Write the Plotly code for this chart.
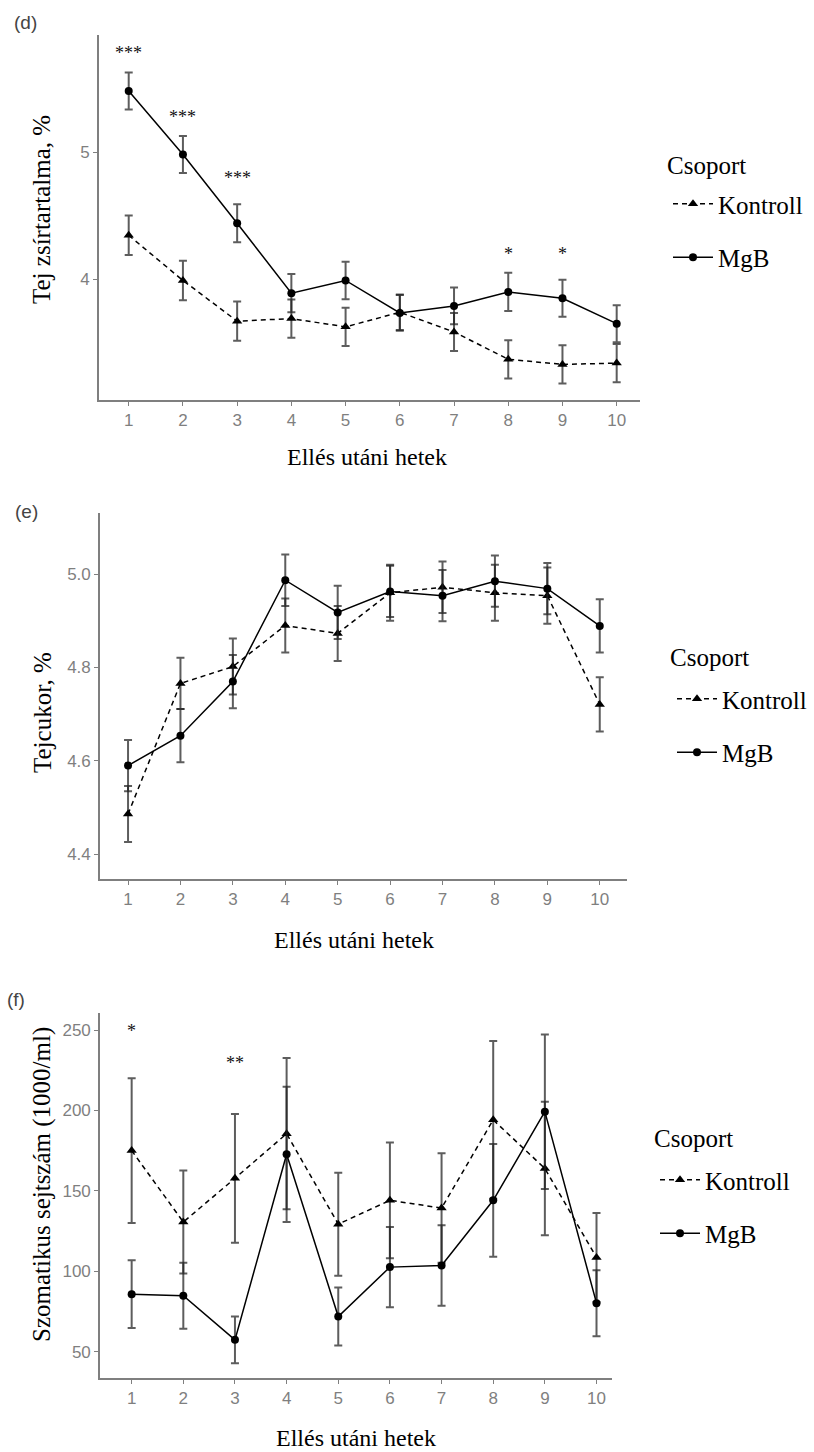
import plotly.graph_objects as go

W, H = 814, 1452

weeks = [1, 2, 3, 4, 5, 6, 7, 8, 9, 10]
groups = ["Kontroll", "MgB"]

# (d) Tej zsírtartalma, %
d_kontroll = [4.345, 3.99, 3.67, 3.69, 3.625, 3.74, 3.585, 3.37, 3.33, 3.34]
d_kontroll_se = [0.155, 0.155, 0.155, 0.15, 0.15, 0.14, 0.15, 0.15, 0.15, 0.15]
d_mgb = [5.48, 4.98, 4.44, 3.89, 3.99, 3.735, 3.79, 3.90, 3.85, 3.65]
d_mgb_se = [0.145, 0.145, 0.15, 0.15, 0.148, 0.14, 0.145, 0.15, 0.145, 0.145]
d_sig_weeks = [1, 2, 3, 8, 9]
d_sig_labels = ["***", "***", "***", "*", "*"]
d_sig_y = [5.81, 5.31, 4.83, 4.23, 4.23]
d_yticks = [4, 5]

# (e) Tejcukor, %
e_kontroll = [4.486, 4.766, 4.802, 4.89, 4.873, 4.96, 4.972, 4.96, 4.954, 4.721]
e_kontroll_se = [0.06, 0.055, 0.06, 0.058, 0.059, 0.06, 0.055, 0.06, 0.06, 0.058]
e_mgb = [4.59, 4.654, 4.77, 4.987, 4.918, 4.963, 4.954, 4.985, 4.969, 4.889]
e_mgb_se = [0.055, 0.057, 0.057, 0.055, 0.057, 0.055, 0.055, 0.055, 0.055, 0.057]
e_yticks = [4.4, 4.6, 4.8, 5.0]

# (f) Szomatikus sejtszám (1000/ml)
f_kontroll = [175.1, 130.7, 157.9, 185.6, 129.4, 144.2, 139.4, 194.2, 164.0, 108.7]
f_kontroll_se = [45, 32, 40, 47, 32, 36, 34, 49, 41.5, 27.6]
f_mgb = [85.9, 84.9, 57.5, 172.8, 72.0, 102.7, 103.7, 144.2, 199.3, 80.3]
f_mgb_se = [21, 20.5, 14.5, 42, 18, 25, 25, 35, 48, 20.5]
f_sig_weeks = [1, 3]
f_sig_labels = ["*", "**"]
f_sig_y = [252, 232]
f_yticks = [50, 100, 150, 200, 250]

x_title = "Ellés utáni hetek"
legend_title = "Csoport"

SERIF = "Liberation Serif, Times New Roman, serif"
SANS = "Liberation Sans, Arial, sans-serif"
GREY = "#7f7f7f"
ERR = "rgba(30,30,30,0.72)"

# pixel boxes of the panels: (left, right, top, bottom), x range, y range
panels = [
    dict(name="d", box=(99, 640, 35, 400), xr=[0.452, 10.43], yr=[3.05, 5.92],
         kon=d_kontroll, kse=d_kontroll_se, mgb=d_mgb, mse=d_mgb_se, yt=d_yticks,
         ytitle="Tej zsírtartalma, %", yfmt="d", tag="(d)", tagx=25, tagy=23,
         ytitle_y=210, xtitle_y=457, xtitle_x=367, leg=(668, 181), legt=(665, 165),
         sig=(d_sig_weeks, d_sig_labels, d_sig_y)),
    dict(name="e", box=(100, 627, 513, 879), xr=[0.465, 10.52], yr=[4.347, 5.131],
         kon=e_kontroll, kse=e_kontroll_se, mgb=e_mgb, mse=e_mgb_se, yt=e_yticks,
         ytitle="Tejcukor, %", yfmt=".1f", tag="(e)", tagx=27, tagy=511,
         ytitle_y=713, xtitle_y=940, xtitle_x=354, leg=(672, 676), legt=(668, 657),
         sig=None),
    dict(name="f", box=(100, 612, 1013, 1378), xr=[0.387, 10.3], yr=[33.8, 260.6],
         kon=f_kontroll, kse=f_kontroll_se, mgb=f_mgb, mse=f_mgb_se, yt=f_yticks,
         ytitle="Szomatikus sejtszám (1000/ml)", yfmt="d", tag="(f)", tagx=16, tagy=999,
         ytitle_y=1185, xtitle_y=1438, xtitle_x=356, leg=(655, 1157), legt=(652, 1138),
         sig=(f_sig_weeks, f_sig_labels, f_sig_y)),
]

fig = go.Figure()
annotations = []
layout = dict(width=W, height=H, margin=dict(l=0, r=0, t=0, b=0),
              paper_bgcolor="white", plot_bgcolor="white", showlegend=True)

for i, p in enumerate(panels):
    n = "" if i == 0 else str(i + 1)
    xa, ya = "x" + n, "y" + n
    legname = "legend" + n
    l, r, t, b = p["box"]
    layout["xaxis" + n] = dict(
        domain=[l / W, r / W], anchor=ya, range=p["xr"], tickvals=weeks,
        showline=True, linecolor=GREY, linewidth=1.6, ticks="outside", ticklen=4,
        tickcolor=GREY, tickwidth=1.2, showgrid=False, zeroline=False,
        tickfont=dict(family=SANS, size=17, color=GREY))
    layout["yaxis" + n] = dict(
        domain=[1 - b / H, 1 - t / H], anchor=xa, range=p["yr"], tickvals=p["yt"],
        tickformat=p["yfmt"],
        showline=True, linecolor=GREY, linewidth=1.6, ticks="outside", ticklen=4,
        tickcolor=GREY, tickwidth=1.2, showgrid=False, zeroline=False,
        tickfont=dict(family=SANS, size=17, color=GREY))
    lx, ly = p["leg"]
    layout[legname] = dict(
        x=lx / W, y=1 - ly / H, xanchor="left", yanchor="top",
        bgcolor="rgba(0,0,0,0)", tracegroupgap=18, itemwidth=40,
        font=dict(family=SERIF, size=25, color="black"))

    fig.add_trace(go.Scatter(
        x=weeks, y=p["kon"], name=groups[0], mode="lines+markers",
        xaxis=xa, yaxis=ya, legend=legname, legendgroup=p["name"] + "k",
        line=dict(color="black", width=1.5, dash="5px,4px"),
        marker=dict(symbol="triangle-up", size=9, color="black"),
        error_y=dict(type="data", array=p["kse"], visible=True, color=ERR,
                     thickness=2, width=4)))
    fig.add_trace(go.Scatter(
        x=weeks, y=p["mgb"], name=groups[1], mode="lines+markers",
        xaxis=xa, yaxis=ya, legend=legname, legendgroup=p["name"] + "m",
        line=dict(color="black", width=1.5),
        marker=dict(symbol="circle", size=8, color="black"),
        error_y=dict(type="data", array=p["mse"], visible=True, color=ERR,
                     thickness=2, width=4)))

    # legend title
    tx, ty = p["legt"]
    annotations.append(dict(text=legend_title, x=tx / W, y=1 - ty / H,
                            xref="paper", yref="paper", xanchor="left", yanchor="middle",
                            showarrow=False, font=dict(family=SERIF, size=25, color="black")))
    # panel tag
    annotations.append(dict(text=p["tag"], x=p["tagx"] / W, y=1 - p["tagy"] / H,
                            xref="paper", yref="paper", xanchor="center", yanchor="middle",
                            showarrow=False, font=dict(family=SANS, size=19, color="#444")))
    # axis titles
    annotations.append(dict(text=x_title, x=p["xtitle_x"] / W, y=1 - p["xtitle_y"] / H,
                            xref="paper", yref="paper", xanchor="center", yanchor="middle",
                            showarrow=False, font=dict(family=SERIF, size=24, color="black")))
    annotations.append(dict(text=p["ytitle"], x=42 / W, y=1 - p["ytitle_y"] / H,
                            xref="paper", yref="paper", xanchor="center", yanchor="middle",
                            textangle=-90, showarrow=False,
                            font=dict(family=SERIF, size=25, color="black")))
    if p["sig"]:
        for wk, lab, yy in zip(*p["sig"]):
            annotations.append(dict(text=lab, x=wk, y=yy, xref=xa, yref=ya,
                                    xanchor="center", yanchor="middle", yshift=-4,
                                    showarrow=False,
                                    font=dict(family=SERIF, size=18, color="#111")))

layout["annotations"] = annotations
fig.update_layout(**layout)
fig.write_html("out.html")
